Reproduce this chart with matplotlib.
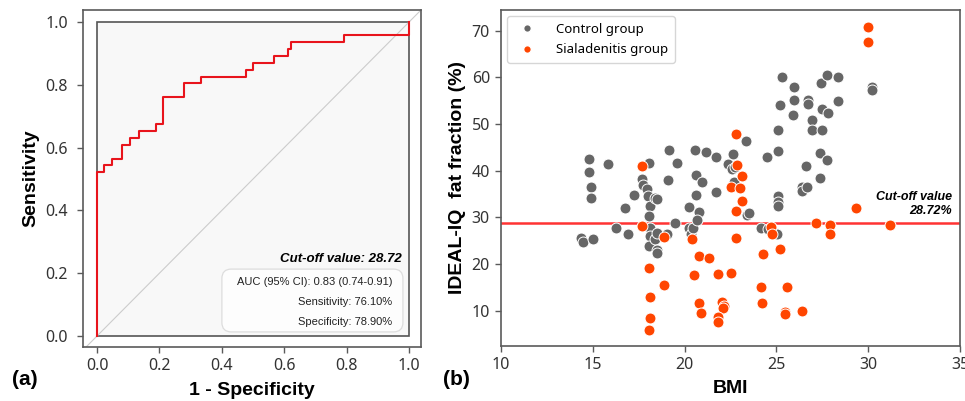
import matplotlib
matplotlib.use("Agg")
import matplotlib.pyplot as plt
from matplotlib.patches import Rectangle, FancyBboxPatch
from matplotlib.lines import Line2D

# ROC curve corners (1 - specificity, sensitivity)
roc_fpr = [0, 0, 0.023, 0.047, 0.079, 0.106, 0.135, 0.190, 0.212, 0.279,
           0.332, 0.478, 0.499, 0.566, 0.611, 0.623, 0.791, 1.0]
roc_tpr = [0, 0.522, 0.543, 0.565, 0.609, 0.630, 0.652, 0.674, 0.761, 0.804,
           0.826, 0.848, 0.870, 0.891, 0.913, 0.935, 0.957, 1.0]
roc_ticks = [0.0, 0.2, 0.4, 0.6, 0.8, 1.0]
roc_stats = ["AUC (95% CI): 0.83 (0.74-0.91)",
             "Sensitivity: 76.10%",
             "Specificity: 78.90%"]
cutoff = 28.72

# BMI vs fat fraction
control_bmi = [14.36, 14.45, 15.02, 14.79, 14.79, 14.92, 14.92, 15.83, 16.25, 16.74,
               16.91, 17.23, 17.70, 17.73, 17.97, 18.07, 18.03, 18.09, 18.07, 18.10,
               18.10, 18.07, 18.41, 18.48, 18.41, 18.48, 18.50, 18.50, 19.04, 19.08,
               19.13, 19.50, 19.56, 20.23, 20.22, 20.34, 20.45, 20.55, 20.60, 20.60,
               20.80, 20.68, 20.97, 21.15, 21.72, 21.72, 22.36, 22.58, 22.66, 22.72,
               22.68, 23.35, 23.41, 23.52, 24.14, 24.49, 24.55, 24.92, 25.02, 25.10,
               25.10, 25.20, 25.31, 25.10, 25.10, 25.10, 25.95, 25.95, 25.93, 26.38,
               26.42, 26.64, 26.60, 26.74, 26.74, 26.96, 26.96, 27.38, 27.38, 27.44,
               27.50, 27.50, 27.78, 27.79, 27.78, 28.35, 28.36, 30.22, 30.22]
control_ff = [25.6, 24.6, 25.4, 42.5, 39.7, 36.4, 34.1, 41.4, 27.6, 31.9,
              26.4, 34.7, 38.1, 37.0, 36.0, 41.7, 34.5, 32.4, 30.2, 27.7,
              26.0, 23.8, 34.2, 33.8, 25.4, 26.7, 23.0, 22.4, 26.5, 38.0,
              44.3, 28.8, 41.6, 32.1, 27.6, 26.3, 27.6, 44.5, 39.1, 34.7,
              31.2, 29.4, 37.5, 44.0, 35.5, 42.9, 41.5, 40.3, 43.5, 40.7,
              37.6, 46.3, 30.4, 30.8, 27.7, 42.8, 27.4, 26.6, 26.4, 48.7,
              44.1, 54.1, 60.1, 34.6, 33.2, 32.5, 57.8, 55.1, 51.8, 36.4,
              35.6, 36.5, 41.0, 55.2, 54.3, 50.9, 48.6, 38.5, 43.7, 58.7,
              53.2, 48.6, 60.4, 52.4, 42.3, 60.1, 55.0, 58.0, 57.3]
sial_bmi = [30.0, 30.0, 17.67, 17.67, 22.80, 22.84, 23.13, 22.52, 22.99, 23.13,
            22.80, 22.80, 18.86, 20.38, 18.05, 20.76, 21.33, 20.49, 21.84, 22.52,
            18.86, 18.14, 18.14, 18.05, 20.76, 20.89, 22.03, 22.14, 22.10, 21.80,
            21.80, 24.17, 24.23, 24.27, 25.21, 24.73, 24.77, 25.59, 25.49, 25.49,
            26.40, 27.16, 27.90, 27.90, 29.34, 31.21]
sial_ff = [70.8, 67.5, 41.0, 28.1, 47.9, 41.2, 38.8, 36.5, 36.3, 33.4,
           31.4, 25.6, 25.8, 25.3, 19.2, 21.7, 21.2, 17.7, 17.9, 18.0,
           15.4, 13.0, 8.4, 5.8, 11.7, 9.4, 11.8, 11.0, 10.6, 8.7,
           7.5, 15.0, 11.6, 22.1, 23.2, 27.8, 26.5, 15.0, 9.7, 9.2,
           10.0, 28.75, 28.3, 26.3, 31.9, 28.3]
bmi_ticks = [10, 15, 20, 25, 30, 35]
ff_ticks = [10, 20, 30, 40, 50, 60, 70]

tick_font = "Noto Sans"
label_font = "Liberation Sans"
spine_col = "#5a5a5a"
grey = "#666666"
orange = "#ff4500"


def style_axes(ax, pad=4):
    for s in ax.spines.values():
        s.set_color(spine_col)
        s.set_linewidth(1.2)
    ax.tick_params(direction="out", length=4, width=1, color=spine_col,
                   labelsize=11.5, labelcolor="#333333", pad=pad)
    for lab in ax.get_xticklabels() + ax.get_yticklabels():
        lab.set_family(tick_font)


fig = plt.figure(figsize=(9.65, 4.01), dpi=100)

# (a) ROC
ax1 = fig.add_axes([0.086, 0.1347, 0.3503, 0.8404])
ax1.add_patch(Rectangle((0, 0), 1, 1, facecolor="#f8f8f8", edgecolor="#555555",
                        linewidth=1.2, zorder=0))
ax1.axline((0, 0), (1, 1), color="#cccccc", linewidth=0.8, zorder=1)
ax1.plot(roc_fpr, roc_tpr, drawstyle="steps-post", color="#e8141c",
         linewidth=1.5, zorder=3)
ax1.set_xlim(-0.045, 1.038)
ax1.set_ylim(-0.035, 1.038)
ax1.set_xticks(roc_ticks)
ax1.set_yticks(roc_ticks)
ax1.set_xticklabels([f"{t:.1f}" for t in roc_ticks])
ax1.set_yticklabels([f"{t:.1f}" for t in roc_ticks])
style_axes(ax1)
ax1.tick_params(axis="y", pad=7)
ax1.set_xlabel("1 - Specificity", family=label_font, fontweight="bold",
               fontsize=14, labelpad=6)
ax1.set_ylabel("Sensitivity", family=label_font, fontweight="bold",
               fontsize=14, labelpad=4)

ax1.text(0.976, 0.245, "Cut-off value: 28.72", ha="right", va="center",
         family=label_font, fontweight="bold", fontstyle="italic", fontsize=9.5)
ax1.add_patch(FancyBboxPatch((0.40, 0.013), 0.58, 0.20,
                             boxstyle="round,pad=0,rounding_size=0.03",
                             facecolor="#fdfdfd", edgecolor="#dddddd",
                             linewidth=0.9, zorder=4))
for txt, yy in zip(roc_stats, [0.172, 0.108, 0.045]):
    ax1.text(0.946, yy, txt, ha="right", va="center", family=label_font,
             fontsize=8, color="#222222", zorder=5)

# (b) scatter
ax2 = fig.add_axes([0.5192, 0.1372, 0.4756, 0.8379])
ax2.scatter(control_bmi, control_ff, s=62, color=grey, edgecolor="white",
            linewidth=0.7, zorder=3)
ax2.scatter(sial_bmi, sial_ff, s=62, color=orange, edgecolor="white",
            linewidth=0.7, zorder=3)
ax2.axhline(cutoff, color="#ff3333", linewidth=1.8, zorder=2)
ax2.set_xlim(10, 35)
ax2.set_ylim(2.4, 74.4)
ax2.set_xticks(bmi_ticks)
ax2.set_yticks(ff_ticks)
style_axes(ax2)
ax2.set_xlabel("BMI", family=label_font, fontweight="bold", fontsize=14,
               labelpad=5)
ax2.set_ylabel("IDEAL-IQ  fat fraction (%)", family=label_font,
               fontweight="bold", fontsize=14, labelpad=4)
ax2.text(34.56, 32.8, "Cut-off value\n28.72%", ha="right", va="center",
         multialignment="right", family=label_font, fontweight="bold",
         fontstyle="italic", fontsize=9, linespacing=1.25)

handles = [Line2D([], [], marker="o", linestyle="none", markersize=5.5,
                  markerfacecolor=grey, markeredgecolor="white"),
           Line2D([], [], marker="o", linestyle="none", markersize=5.5,
                  markerfacecolor=orange, markeredgecolor="white")]
ax2.legend(handles, ["Control group", "Sialadenitis group"], loc="upper left",
           prop={"family": tick_font, "size": 9.5}, borderaxespad=0.45,
           labelspacing=0.6, handletextpad=1.2, borderpad=0.5)

fig.text(0.012, 0.04, "(a)", family=label_font, fontweight="bold", fontsize=15)
fig.text(0.459, 0.04, "(b)", family=label_font, fontweight="bold", fontsize=15)

fig.savefig("out.png", dpi=100)
